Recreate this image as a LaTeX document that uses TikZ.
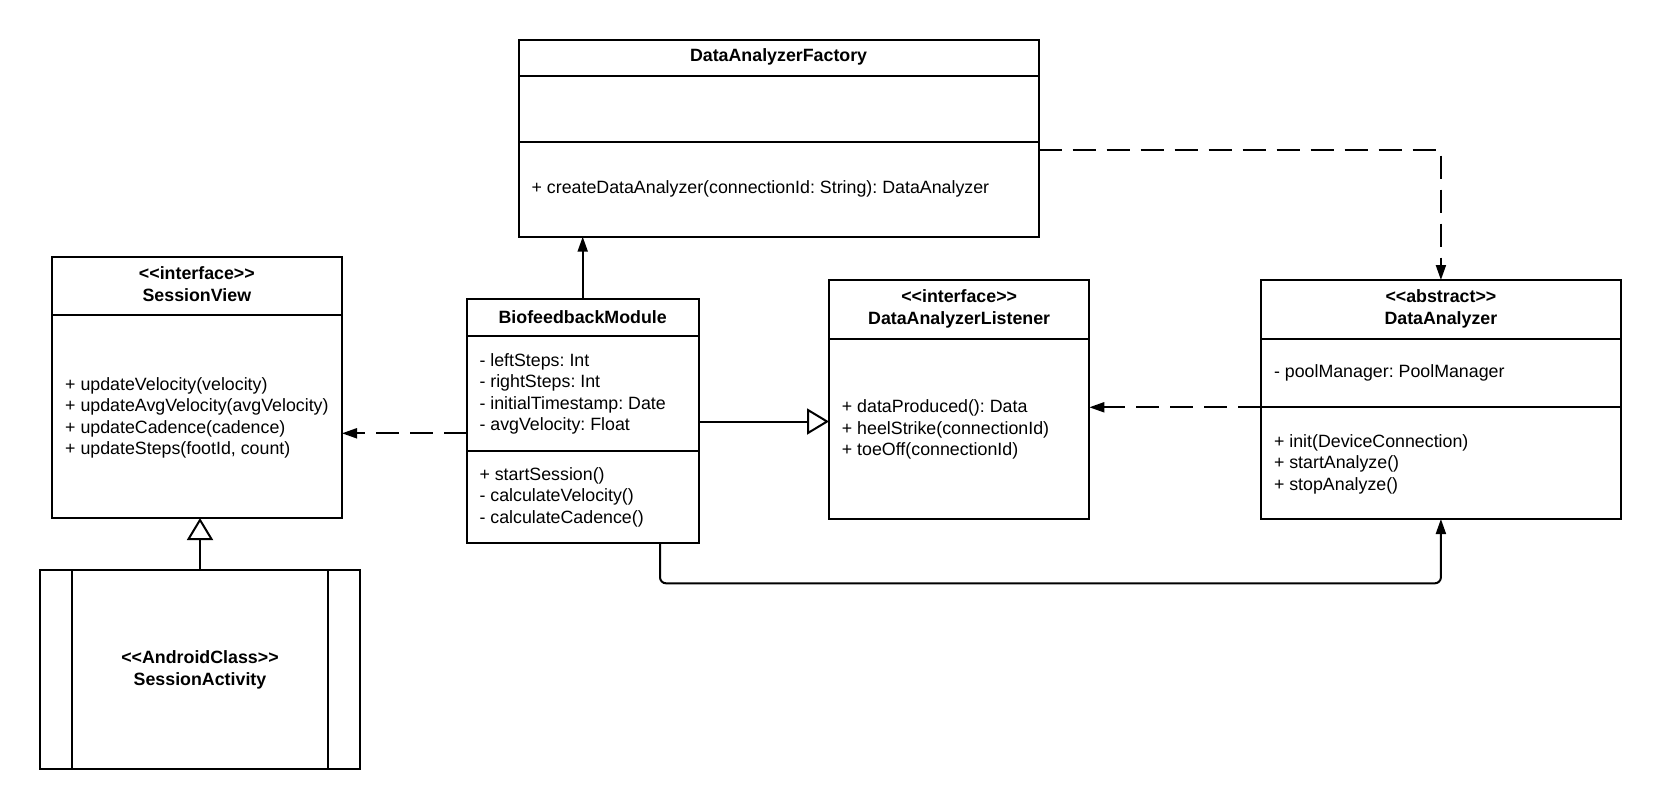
\documentclass[tikz,border=0pt]{standalone}
\usepackage{fontspec}
\setmainfont{Liberation Sans}
\usetikzlibrary{arrows.meta}
\frenchspacing
\begin{document}
\begin{tikzpicture}[x=1pt,y=-1pt,
  box/.style={draw,line width=2pt,rectangle,inner sep=0pt,outer sep=0pt},
  ln/.style={line width=2pt},
  txt/.style={inner sep=0pt,anchor=west,align=left,font=\fontsize{17.8}{21.4}\selectfont\frenchspacing},
  ttl/.style={inner sep=0pt,align=center,font=\fontsize{17.8}{22}\selectfont\bfseries},
  assoc/.style={line width=2pt,-{Triangle[length=15pt,width=10pt]}},
  dep/.style={line width=2pt,dash pattern=on 23pt off 11pt,-{Triangle[length=15pt,width=10pt]}},
  gen/.style={line width=2pt,-{Triangle[open,length=22pt,width=26pt,fill=white]}}
]
\useasboundingbox (0,0) rectangle (1661,810);
\fill[white] (0,0) rectangle (1661,810);

% DataAnalyzerFactory
\node[box,minimum width=520pt,minimum height=196.7pt] (fac) at (778.6,138.35) {};
\draw[ln] (518.6,76) -- (1038.6,76);
\draw[ln] (518.6,141.7) -- (1038.6,141.7);
\node[ttl] (facT) at (778.6,57) {DataAnalyzerFactory};
\node[txt] (facM) at (531.4,189) {+ createDataAnalyzer(connectionId: String): DataAnalyzer};

% SessionView
\node[box,minimum width=290.3pt,minimum height=261.3pt] (sv) at (196.85,387.35) {};
\draw[ln] (51.7,315) -- (342,315);
\node[ttl] (svT) at (196.85,284.5) {<{}<interface>{}>\\SessionView};
\node[txt] (svM) at (65,418) {+ updateVelocity(velocity)\\+ updateAvgVelocity(avgVelocity)\\+ updateCadence(cadence)\\+ updateSteps(footId, count)};

% SessionActivity
\node[box,minimum width=320pt,minimum height=199pt] (sa) at (200,669.5) {};
\draw[ln] (72,570) -- (72,769);
\draw[ln] (328,570) -- (328,769);
\node[ttl] (saT) at (200,670) {<{}<AndroidClass>{}>\\SessionActivity};

% BiofeedbackModule
\node[box,minimum width=232pt,minimum height=243.7pt] (bio) at (582.7,421.15) {};
\draw[ln] (466.7,336) -- (698.7,336);
\draw[ln] (466.7,451) -- (698.7,451);
\node[ttl] (bioT) at (582.7,317) {BiofeedbackModule};
\node[txt] (bioA) at (479.3,394) {- leftSteps: Int\\- rightSteps: Int\\- initialTimestamp: Date\\- avgVelocity: Float};
\node[txt] (bioM) at (479.3,497) {+ startSession()\\- calculateVelocity()\\- calculateCadence()};

% DataAnalyzerListener
\node[box,minimum width=260.3pt,minimum height=239.3pt] (lis) at (959.15,399.65) {};
\draw[ln] (829,339.3) -- (1089.3,339.3);
\node[ttl] (lisT) at (959.15,308.5) {<{}<interface>{}>\\DataAnalyzerListener};
\node[txt] (lisM) at (841.7,429.5) {+ dataProduced(): Data\\+ heelStrike(connectionId)\\+ toeOff(connectionId)};

% DataAnalyzer
\node[box,minimum width=360.2pt,minimum height=239pt] (da) at (1440.9,399.5) {};
\draw[ln] (1260.8,339) -- (1621,339);
\draw[ln] (1260.8,407.3) -- (1621,407.3);
\node[ttl] (daT) at (1440.9,308.5) {<{}<abstract>{}>\\DataAnalyzer};
\node[txt] (daA) at (1273.8,372.5) {- poolManager: PoolManager};
\node[txt] (daM) at (1273.8,464) {+ init(DeviceConnection)\\+ startAnalyze()\\+ stopAnalyze()};

% helper coordinates
\coordinate (c2) at (1440.9,150);
\coordinate (c3) at (0,433.3);
\coordinate (c4) at (0,421.5);
\coordinate (c5) at (0,407.3);
\coordinate (c7) at (660,583.3);

% connectors
\draw[assoc] (bio.north) -- (fac.south -| bio.north);
\draw[dep] (fac.east |- c2) -- (c2) -- (da.north);
\draw[dep] (bio.west |- c3) -- (sv.east |- c3);
\draw[gen] (bio.east |- c4) -- (lis.west |- c4);
\draw[dep] (da.west |- c5) -- (lis.east |- c5);
\draw[gen] (sa.north) -- (sv.south -| sa.north);
\draw[assoc,rounded corners=6pt] (bio.south -| c7) -- (c7) -- (c7 -| da.south) -- (da.south);
\end{tikzpicture}
\end{document}
